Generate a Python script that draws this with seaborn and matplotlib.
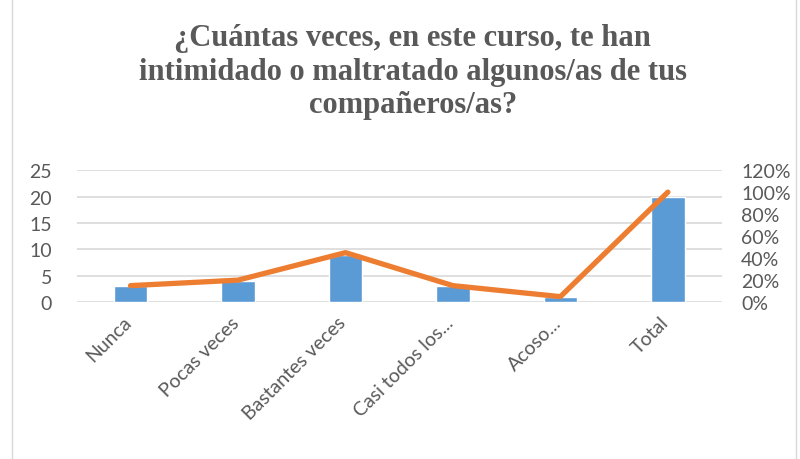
import pandas as pd
import matplotlib.pyplot as plt
import matplotlib.transforms as mtransforms
import seaborn as sns
from matplotlib.ticker import PercentFormatter
from matplotlib.patches import Rectangle

# data
categorias = ["Nunca", "Pocas veces", "Bastantes veces", "Casi todos los...", "Acoso...", "Total"]
frecuencia = [3, 4, 9, 3, 1, 20]
porcentaje = [0.15, 0.20, 0.45, 0.15, 0.05, 1.00]

df = pd.DataFrame({"cat": categorias, "n": frecuencia, "pct": porcentaje})

sns.set_style("white")
plt.rcParams["font.family"] = ["Lato", "DejaVu Sans"]

fig = plt.figure(figsize=(8, 4.6), dpi=100)
ax = fig.add_axes([0.096, 0.341, 0.806, 0.287])

sns.barplot(data=df, x="cat", y="n", color="#5B9BD5", width=0.31,
            saturation=1, ax=ax)
ax.set_ylim(0, 25)
ax.set_yticks(range(0, 26, 5))
ax.set_xlim(-0.5, 5.5)
ax.yaxis.grid(True, color="#D9D9D9", linewidth=1.2)
ax.set_axisbelow(True)
ax.set_xlabel("")
ax.set_ylabel("")
sns.despine(ax=ax, left=True, bottom=True)
ax.tick_params(axis="both", length=0, labelsize=14, labelcolor="#595959")
ax.tick_params(axis="y", pad=18)
ax.tick_params(axis="x", pad=8)
# shift rotated labels a bit left, like the original
shift = mtransforms.ScaledTranslation(-8 / 100, 0, fig.dpi_scale_trans)
for lbl in ax.get_xticklabels():
    lbl.set_rotation(45)
    lbl.set_ha("right")
    lbl.set_rotation_mode("anchor")
    lbl.set_transform(lbl.get_transform() + shift)

ax2 = ax.twinx()
sns.lineplot(x=list(range(len(categorias))), y=porcentaje, color="#ED7D31",
             linewidth=3.8, ax=ax2)
ax2.set_ylim(0, 1.2)
ax2.set_yticks([0, 0.2, 0.4, 0.6, 0.8, 1.0, 1.2])
ax2.yaxis.set_major_formatter(PercentFormatter(1.0, decimals=0))
ax2.tick_params(axis="y", length=0, labelsize=14, labelcolor="#595959", pad=14)
for s in ax2.spines.values():
    s.set_visible(False)
ax2.grid(False)

fig.text(0.516, 0.843, "¿Cuántas veces, en este curso, te han\nintimidado o maltratado algunos/as de tus\ncompañeros/as?",
         ha="center", va="center", fontsize=22, fontweight="bold",
         color="#595959", family="Liberation Serif", linespacing=1.2)

fig.patches.append(Rectangle((0.015, -0.01), 0.98, 1.05, transform=fig.transFigure,
                             fill=False, edgecolor="#D9D9D9", linewidth=1))

fig.savefig("out.png", dpi=100)
